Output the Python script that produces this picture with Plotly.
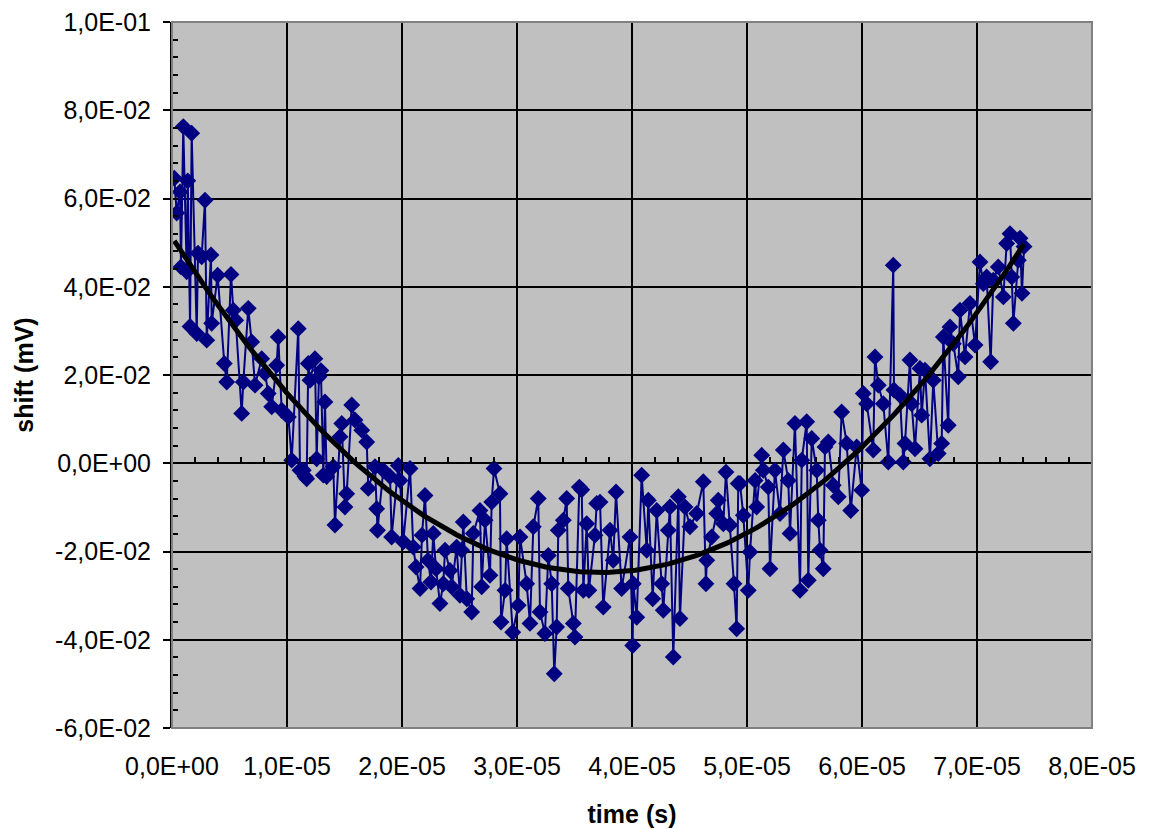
import numpy as np
import plotly.graph_objects as go

# time in units of 1e-5 s
t_e5 = [0.020, 0.041, 0.070, 0.078, 0.098, 0.128, 0.137, 0.157, 0.171, 0.215,
        0.226, 0.258, 0.287, 0.302, 0.339, 0.345, 0.397, 0.455, 0.476, 0.513,
        0.533, 0.554, 0.606, 0.620, 0.663, 0.693, 0.722, 0.780, 0.809, 0.837,
        0.867, 0.910, 0.924, 0.954, 1.012, 1.041, 1.098, 1.113, 1.142, 1.157,
        1.171, 1.185, 1.200, 1.243, 1.258, 1.278, 1.295, 1.316, 1.330, 1.345,
        1.403, 1.417, 1.461, 1.476, 1.504, 1.519, 1.563, 1.591, 1.650, 1.693,
        1.707, 1.765, 1.780, 1.787, 1.837, 1.896, 1.910, 1.968, 1.983, 2.011,
        2.070, 2.098, 2.122, 2.157, 2.174, 2.200, 2.226, 2.252, 2.272, 2.296,
        2.330, 2.359, 2.374, 2.417, 2.432, 2.475, 2.504, 2.519, 2.533, 2.563,
        2.606, 2.620, 2.678, 2.693, 2.722, 2.765, 2.780, 2.800, 2.852, 2.861,
        2.896, 2.910, 2.963, 3.011, 3.026, 3.084, 3.113, 3.142, 3.185, 3.200,
        3.243, 3.272, 3.302, 3.324, 3.345, 3.359, 3.403, 3.432, 3.446, 3.490,
        3.504, 3.542, 3.563, 3.577, 3.606, 3.625, 3.678, 3.693, 3.722, 3.750,
        3.809, 3.837, 3.861, 3.910, 3.983, 4.006, 4.011, 4.041, 4.084, 4.128,
        4.142, 4.180, 4.215, 4.258, 4.272, 4.316, 4.330, 4.359, 4.403, 4.417,
        4.461, 4.504, 4.563, 4.620, 4.643, 4.650, 4.693, 4.737, 4.750, 4.794,
        4.817, 4.852, 4.887, 4.910, 4.924, 4.939, 4.968, 5.011, 5.026, 5.070,
        5.084, 5.128, 5.142, 5.185, 5.200, 5.243, 5.287, 5.316, 5.359, 5.374,
        5.417, 5.461, 5.476, 5.519, 5.533, 5.563, 5.606, 5.620, 5.635, 5.663,
        5.678, 5.707, 5.750, 5.794, 5.823, 5.867, 5.902, 5.954, 5.997, 6.011,
        6.041, 6.098, 6.113, 6.142, 6.185, 6.229, 6.272, 6.278, 6.330, 6.359,
        6.374, 6.417, 6.432, 6.461, 6.504, 6.519, 6.548, 6.591, 6.620, 6.663,
        6.693, 6.707, 6.750, 6.765, 6.794, 6.837, 6.852, 6.896, 6.939, 6.983,
        7.026, 7.055, 7.084, 7.119, 7.142, 7.185, 7.229, 7.258, 7.287, 7.302,
        7.316, 7.359, 7.374, 7.391, 7.409]

shift_mv = [0.0646, 0.0567, 0.0615, 0.0445, 0.0763, 0.0434, 0.0640, 0.0310, 0.0748, 0.0294,
            0.0476, 0.0468, 0.0596, 0.0279, 0.0472, 0.0317, 0.0426, 0.0226, 0.0184, 0.0428,
            0.0347, 0.0324, 0.0113, 0.0184, 0.0351, 0.0275, 0.0177, 0.0237, 0.0204, 0.0158,
            0.0128, 0.0222, 0.0286, 0.0120, 0.0105, 0.0007, 0.0305, -0.0016, -0.0016, -0.0030,
            -0.0035, 0.0226, 0.0188, 0.0237, 0.0010, 0.0196, 0.0210, -0.0027, 0.0139, -0.0030,
            -0.0008, -0.0140, 0.0060, 0.0090, -0.0099, -0.0069, 0.0132, 0.0098, 0.0075, 0.0048,
            -0.0057, -0.0008, -0.0103, -0.0152, -0.0016, -0.0030, -0.0167, -0.0005, -0.0039, -0.0178,
            -0.0012, -0.0190, -0.0235, -0.0284, -0.0163, -0.0073, -0.0220, -0.0269, -0.0159, -0.0239,
            -0.0318, -0.0273, -0.0197, -0.0243, -0.0280, -0.0190, -0.0299, -0.0197, -0.0133, -0.0307,
            -0.0337, -0.0159, -0.0107, -0.0280, -0.0129, -0.0254, -0.0088, -0.0012, -0.0069, -0.0360,
            -0.0288, -0.0171, -0.0383, -0.0322, -0.0167, -0.0273, -0.0363, -0.0144, -0.0080, -0.0337,
            -0.0386, -0.0209, -0.0273, -0.0477, -0.0371, -0.0152, -0.0129, -0.0080, -0.0284, -0.0363,
            -0.0394, -0.0054, -0.0060, -0.0288, -0.0137, -0.0288, -0.0163, -0.0091, -0.0088, -0.0326,
            -0.0152, -0.0220, -0.0065, -0.0284, -0.0167, -0.0413, -0.0273, -0.0349, -0.0027, -0.0197,
            -0.0084, -0.0307, -0.0107, -0.0273, -0.0333, -0.0152, -0.0099, -0.0439, -0.0076, -0.0352,
            -0.0099, -0.0144, -0.0114, -0.0042, -0.0273, -0.0220, -0.0167, -0.0114, -0.0084, -0.0137,
            -0.0020, -0.0140, -0.0273, -0.0375, -0.0046, -0.0046, -0.0118, -0.0288, -0.0201, -0.0039,
            -0.0099, 0.0018, -0.0016, -0.0054, -0.0239, -0.0016, -0.0114, 0.0030, -0.0039, -0.0159,
            0.0090, -0.0288, 0.0007, 0.0094, -0.0265, 0.0056, -0.0016, -0.0129, -0.0197, -0.0239,
            0.0037, 0.0048, -0.0050, -0.0076, 0.0116, 0.0045, -0.0107, 0.0037, -0.0061, 0.0158,
            0.0135, 0.0030, 0.0241, 0.0177, 0.0135, 0.0003, 0.0449, 0.0166, 0.0154, 0.0003,
            0.0045, 0.0234, 0.0135, 0.0033, 0.0215, 0.0109, 0.0211, 0.0010, 0.0188, 0.0022,
            0.0045, 0.0286, 0.0086, 0.0309, 0.0271, 0.0196, 0.0347, 0.0241, 0.0362, 0.0268,
            0.0456, 0.0407, 0.0422, 0.0230, 0.0415, 0.0445, 0.0377, 0.0498, 0.0520, 0.0422,
            0.0317, 0.0460, 0.0510, 0.0385, 0.0491]

x_tickvals_e5 = [0, 1, 2, 3, 4, 5, 6, 7, 8]
x_ticktext = ["0,0E+00", "1,0E-05", "2,0E-05", "3,0E-05", "4,0E-05",
              "5,0E-05", "6,0E-05", "7,0E-05", "8,0E-05"]
y_tickvals = [-0.06, -0.04, -0.02, 0.0, 0.02, 0.04, 0.06, 0.08, 0.10]
y_ticktext = ["-6,0E-02", "-4,0E-02", "-2,0E-02", "0,0E+00", "2,0E-02",
              "4,0E-02", "6,0E-02", "8,0E-02", "1,0E-01"]

t = np.array(t_e5) * 1e-5
y = np.array(shift_mv)

# 2nd order polynomial trendline (as in the spreadsheet chart)
coef = np.polyfit(t / 1e-5, y, 2)
t_fit = np.linspace(t.min(), t.max(), 200)
y_fit = np.polyval(coef, t_fit / 1e-5)

FONT = "Liberation Sans, Arial, sans-serif"
NAVY = "#000080"

fig = go.Figure()
fig.add_trace(go.Scatter(
    x=t, y=y, mode="lines+markers",
    line=dict(color=NAVY, width=2),
    marker=dict(symbol="diamond", size=13, color=NAVY),
    showlegend=False, hoverinfo="skip"))
fig.add_trace(go.Scatter(
    x=t_fit, y=y_fit, mode="lines", xaxis="x2",
    line=dict(color="black", width=5),
    showlegend=False, hoverinfo="skip"))

xr = [0, 8e-5]
fig.update_layout(
    width=1153, height=829,
    margin=dict(l=172, r=61, t=22, b=101),
    paper_bgcolor="white", plot_bgcolor="#C0C0C0",
    font=dict(family=FONT, size=25, color="black"),
    showlegend=False,
    xaxis=dict(
        range=xr, tickvals=[v * 1e-5 for v in x_tickvals_e5], ticktext=x_ticktext,
        showgrid=True, gridcolor="black", gridwidth=2,
        zeroline=False, showline=False, automargin=False,
        ticks="outside", ticklen=16, tickcolor="rgba(0,0,0,0)",
        title=dict(text="<b>time (s)</b>", font=dict(size=25), standoff=26),
    ),
    xaxis2=dict(
        range=xr, overlaying="x", anchor="free", position=0.375,
        tickvals=[v * 1e-5 for v in x_tickvals_e5], showticklabels=False,
        showgrid=False, zeroline=False, showline=False,
        ticks="outside", ticklen=6, tickwidth=2, tickcolor="black",
        minor=dict(dtick=0.2e-5, ticks="inside", ticklen=6, tickwidth=2,
                   tickcolor="black", showgrid=False),
    ),
    yaxis=dict(
        range=[-0.06, 0.1], tickvals=y_tickvals, ticktext=y_ticktext,
        showgrid=True, gridcolor="black", gridwidth=2,
        zeroline=True, zerolinecolor="black", zerolinewidth=2,
        showline=True, linecolor="black", linewidth=2, automargin=False,
        ticks="outside", ticklen=7, tickwidth=2, tickcolor="black",
        ticklabelstandoff=7,
        minor=dict(dtick=0.004, ticks="inside", ticklen=6, tickwidth=2,
                   tickcolor="black", showgrid=False),
        title=dict(text="<b>shift (mV)</b>", font=dict(size=25), standoff=14),
    ),
)
fig.add_shape(type="rect", xref="paper", yref="paper", x0=0, x1=1, y0=0, y1=1,
              line=dict(color="#808080", width=2), layer="above")

fig.write_html("out.html", config={"displayModeBar": False},
               post_script="document.body.style.margin='0';document.body.style.overflow='hidden';")
